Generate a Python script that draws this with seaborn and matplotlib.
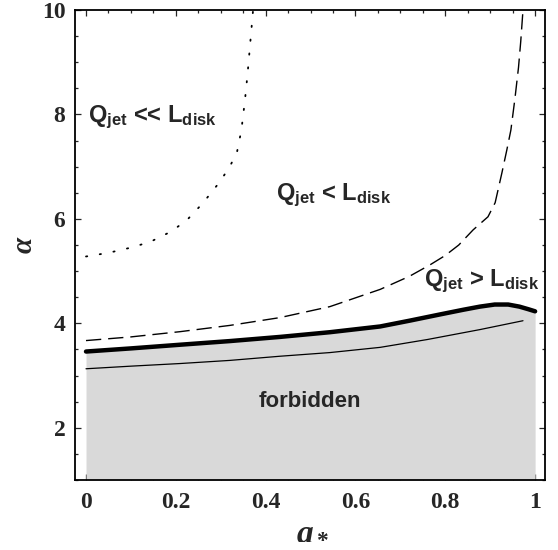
import matplotlib
matplotlib.use("Agg")
import matplotlib.pyplot as plt
import seaborn as sns
import numpy as np
import pandas as pd
from matplotlib.ticker import MultipleLocator

# ---- data ----
dot_a = [0.0, 0.05, 0.10, 0.143, 0.19, 0.225, 0.26, 0.298, 0.32, 0.336, 0.346, 0.354, 0.36, 0.366, 0.372]
dot_alpha = [5.28, 5.35, 5.45, 5.56, 5.76, 5.98, 6.30, 6.71, 7.00, 7.27, 7.70, 8.28, 8.80, 9.40, 10.0]

dash_a = [0.0, 0.1, 0.209, 0.32, 0.432, 0.543, 0.655, 0.72, 0.766, 0.80, 0.83, 0.862,
          0.895, 0.911, 0.926, 0.937, 0.946, 0.955, 0.963, 0.968, 0.973]
dash_alpha = [3.67, 3.74, 3.84, 3.96, 4.11, 4.32, 4.65, 4.90, 5.12, 5.30, 5.50, 5.79,
              6.04, 6.31, 6.88, 7.32, 7.70, 8.30, 8.90, 9.40, 10.0]

thick_a = [0.0, 0.1, 0.209, 0.32, 0.432, 0.543, 0.655, 0.72, 0.788, 0.84, 0.877, 0.91,
           0.94, 0.965, 0.985, 1.0]
thick_alpha = [3.46, 3.52, 3.59, 3.66, 3.74, 3.83, 3.94, 4.05, 4.17, 4.26, 4.32, 4.36,
               4.36, 4.32, 4.27, 4.23]

thin_a = [0.0, 0.1, 0.209, 0.32, 0.432, 0.543, 0.655, 0.76, 0.877, 0.973]
thin_alpha = [3.13, 3.18, 3.23, 3.29, 3.37, 3.44, 3.54, 3.69, 3.88, 4.05]

x_ticks = [0, 0.2, 0.4, 0.6, 0.8, 1.0]
x_ticklabels = ["0", "0.2", "0.4", "0.6", "0.8", "1"]
y_ticks = [2, 4, 6, 8, 10]
y_ticklabels = ["2", "4", "6", "8", "10"]

# ---- style ----
sns.set_style("ticks")
plt.rcParams['font.family'] = ['Liberation Serif', 'DejaVu Serif']
plt.rcParams['mathtext.fontset'] = 'custom'
plt.rcParams['mathtext.bf'] = 'Liberation Sans:bold'
plt.rcParams['mathtext.rm'] = 'Liberation Serif:bold'
plt.rcParams['mathtext.it'] = 'Liberation Serif:bold:italic'

fig = plt.figure(figsize=(5.58, 5.5), dpi=100)
ax = fig.add_axes([75 / 558, 1 - 480 / 550, 470 / 558, 470 / 550])

df_thick = pd.DataFrame({"a": thick_a, "alpha": thick_alpha})
ax.fill_between(df_thick["a"], 1.0, df_thick["alpha"], color="#d9d9d9", lw=0, zorder=1)

sns.lineplot(data=pd.DataFrame({"a": dot_a, "alpha": dot_alpha}), x="a", y="alpha",
             ax=ax, color="black", lw=1.3, sort=False, zorder=3,
             linestyle=(0, (0.7, 7.0)), dash_capstyle="round")
sns.lineplot(data=pd.DataFrame({"a": dash_a, "alpha": dash_alpha}), x="a", y="alpha",
             ax=ax, color="black", lw=1.0, sort=False, zorder=3, linestyle=(0, (11, 5)))
sns.lineplot(data=df_thick, x="a", y="alpha", ax=ax, color="black", lw=3.2, sort=False,
             zorder=4, solid_capstyle="round", solid_joinstyle="round")
sns.lineplot(data=pd.DataFrame({"a": thin_a, "alpha": thin_alpha}), x="a", y="alpha",
             ax=ax, color="black", lw=0.9, sort=False, zorder=3)

ax.set_xlim(-0.0245, 1.022)
ax.set_ylim(1.0, 10.0)

ax.set_xticks(x_ticks)
ax.set_xticklabels(x_ticklabels)
ax.set_yticks(y_ticks)
ax.set_yticklabels(y_ticklabels)
ax.xaxis.set_minor_locator(MultipleLocator(0.05))
ax.yaxis.set_minor_locator(MultipleLocator(0.5))
ax.tick_params(which="both", direction="in", top=True, right=True, width=0.9)
ax.tick_params(which="major", length=4, labelsize=17)
ax.tick_params(which="minor", length=2)
ax.tick_params(axis="x", which="major", pad=9)
ax.tick_params(axis="y", which="major", pad=7)
for lab in ax.get_xticklabels() + ax.get_yticklabels():
    lab.set_fontweight("bold")
for s in ax.spines.values():
    s.set_linewidth(1.3)
    s.set_color("black")

ax.set_xlabel(r"$a_*$", fontsize=24)
ax.xaxis.set_label_coords(0.505, -0.075)
ax.set_ylabel("α", fontsize=21, fontweight="bold", fontstyle="italic", labelpad=3)

lab_kw = dict(fontsize=17, ha="left", va="center", zorder=5,
              family="Liberation Sans", fontweight="bold")
ax.text(0.005, 7.95, r"$\mathbf{Q_{jet}}$ << $\mathbf{L_{disk}}$", **lab_kw)
ax.text(0.423, 6.46, r"$\mathbf{Q_{jet}}$ < $\mathbf{L_{disk}}$", **lab_kw)
ax.text(0.752, 4.80, r"$\mathbf{Q_{jet}}$ > $\mathbf{L_{disk}}$", **lab_kw)
ax.text(0.499, 2.5, "forbidden", fontsize=16, fontweight="bold", family="Liberation Sans",
        ha="center", va="center", zorder=5)

fig.savefig("out.png", dpi=100)
